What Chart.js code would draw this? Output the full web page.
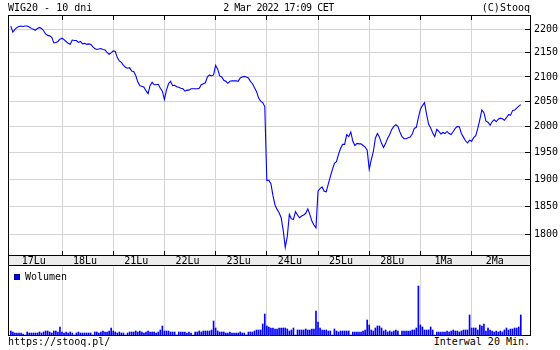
<!DOCTYPE html>
<html><head><meta charset="utf-8">
<script src="https://cdn.jsdelivr.net/npm/chart.js@4.4.1/dist/chart.umd.min.js"></script>
<style>
html,body{margin:0;padding:0;background:#fff}
body{width:560px;height:350px;position:relative;overflow:hidden;font:10px "DejaVu Sans Mono",monospace;color:#000}
canvas{position:absolute;left:0}
.t{position:absolute;white-space:pre;line-height:12px;z-index:2}
</style></head><body>
<canvas id="main" width="560" height="265" style="top:0"></canvas>
<canvas id="vol" width="560" height="71" style="top:265px"></canvas>
<div class="t" style="left:8px;top:2px">WIG20 - 10 dni</div>
<div class="t" style="left:0;width:557px;top:2px;text-align:center;letter-spacing:-0.5px">2 Mar 2022 17:09 CET</div>
<div class="t" style="right:30px;top:2px">(C)Stooq</div>
<div class="t" style="left:14px;top:274px;width:4px;height:4px;background:#00f;border:1px solid #00008b"></div>
<div class="t" style="left:25px;top:271px">Wolumen</div>
<div class="t" style="left:8px;top:336px">https://stooq.pl/</div>
<div class="t" style="right:30px;top:336px">Interwal 20 Min.</div>
<script>
// ---- data ----
const DAYS = ['17Lu','18Lu','21Lu','22Lu','23Lu','24Lu','25Lu','28Lu','1Ma','2Ma'];
const SLOTS = 25; // 20-minute bars per session
const Y_TICKS = [1800,1850,1900,1950,2000,2050,2100,2150,2200];

const PRICE_17LU = [2207,2194,2200,2204,2206,2207,2206,2207,2207,2205,2202,2200,2198,2202,2204,2202,2197,2190,2187,2186,2183,2171,2172,2174,2179];
const PRICE_18LU = [2181,2178,2174,2170,2168,2177,2176,2176,2172,2174,2169,2170,2168,2169,2168,2163,2159,2157,2158,2159,2157,2156,2151,2147,2150];
const PRICE_21LU = [2154,2153,2140,2133,2130,2124,2120,2118,2119,2112,2111,2103,2090,2082,2081,2079,2072,2066,2082,2089,2084,2084,2085,2077,2071];
const PRICE_22LU = [2054,2073,2086,2091,2082,2083,2080,2079,2077,2076,2071,2073,2073,2076,2076,2076,2076,2077,2084,2086,2088,2100,2104,2102,2104];
const PRICE_23LU = [2124,2116,2102,2100,2093,2091,2087,2091,2092,2092,2092,2091,2098,2100,2101,2100,2098,2091,2086,2078,2070,2057,2051,2048,2040];
const PRICE_24LU = [1898,1898,1892,1870,1853,1845,1839,1830,1808,1778,1797,1836,1828,1827,1841,1835,1830,1833,1835,1838,1846,1836,1824,1817,1812];
const PRICE_25LU = [1878,1883,1886,1878,1877,1891,1905,1918,1930,1933,1947,1958,1966,1966,1985,1981,1990,1972,1964,1968,1967,1967,1964,1961,1955];
const PRICE_28LU = [1919,1937,1952,1978,1987,1980,1968,1960,1968,1978,1985,1995,2001,2004,2001,1990,1981,1977,1977,1979,1980,1986,1997,1999,2018];
const PRICE_1MA  = [2035,2042,2048,2025,2005,1998,1988,1981,1995,1991,1986,1989,1987,1991,1987,1985,1991,1997,2001,2000,1987,1980,1973,1969,1974];
const PRICE_2MA  = [1972,1979,1983,1997,2014,2033,2028,2011,2009,2003,2010,2014,2010,2015,2017,2016,2013,2018,2024,2023,2032,2033,2037,2041,2044];

const VOL_17LU = [4,3,2,2,2,2,1,0,3,2,2,2,2,2,3,2,3,4,4,3,2,4,4,3,8];
const VOL_18LU = [3,2,3,2,3,2,0,2,3,2,2,2,2,2,2,0,3,3,2,3,4,3,3,4,7];
const VOL_21LU = [4,3,2,3,2,2,0,2,3,3,3,4,3,4,3,2,3,4,3,3,3,2,3,5,9];
const VOL_22LU = [4,4,4,3,3,3,0,3,3,3,3,2,3,2,0,3,3,4,3,4,4,4,4,5,14];
const VOL_23LU = [7,4,3,3,3,2,2,3,2,2,2,2,3,2,2,0,3,3,3,4,5,5,5,11,21];
const VOL_24LU = [9,8,7,7,6,6,7,7,7,7,6,4,5,7,0,5,5,5,5,6,5,5,6,6,24];
const VOL_25LU = [13,7,5,5,5,4,4,0,6,4,3,4,4,4,4,4,0,3,3,3,3,3,4,5,15];
const VOL_28LU = [10,5,4,7,9,9,7,4,5,3,4,3,4,5,4,0,4,4,4,4,4,5,5,7,49];
const VOL_1MA  = [10,8,5,5,5,8,5,0,3,3,3,3,3,4,3,4,5,4,4,3,4,5,5,5,20];
const VOL_2MA  = [7,7,7,5,10,9,11,4,7,5,4,3,4,3,4,3,5,7,5,6,6,7,7,8,20];

const PRICE_DAYS = [PRICE_17LU,PRICE_18LU,PRICE_21LU,PRICE_22LU,PRICE_23LU,PRICE_24LU,PRICE_25LU,PRICE_28LU,PRICE_1MA,PRICE_2MA];
const VOL_DAYS = [VOL_17LU,VOL_18LU,VOL_21LU,VOL_22LU,VOL_23LU,VOL_24LU,VOL_25LU,VOL_28LU,VOL_1MA,VOL_2MA];

// ---- build ----
const X_MIN = -1.37, X_MAX = 253.5;
const GRID = '#d4d4d4';
const priceData = [], volData = [];
PRICE_DAYS.forEach((arr,d)=>arr.forEach((v,j)=>priceData.push({x:d*SLOTS+j, y:v})));
VOL_DAYS.forEach((arr,d)=>arr.forEach((v,j)=>volData.push({x:d*SLOTS+j, y:v})));
const DAY_BOUNDS = DAYS.slice(1).map((_,i)=>(i+1)*SLOTS);
const LABEL_POS = DAYS.map((_,i)=>i*SLOTS+11.25);

Chart.defaults.font = {family:'"DejaVu Sans Mono", monospace', size:10};
Chart.defaults.color = '#000';

const align = p => Math.round(p - 0.5) + 0.5;

const mainFrame = {
  id:'mainFrame',
  beforeDraw(chart){
    const {ctx, chartArea:a} = chart;
    ctx.save(); ctx.fillStyle = '#ececec';
    ctx.fillRect(a.left, a.bottom, a.right - a.left, chart.height - a.bottom);
    ctx.restore();
  },
  afterDraw(chart){
    const {ctx, chartArea:a, scales:{x, y}} = chart;
    ctx.save(); ctx.strokeStyle = '#000'; ctx.lineWidth = 1; ctx.beginPath();
    ctx.moveTo(a.left, a.top + 0.5); ctx.lineTo(a.right + 1, a.top + 0.5);
    ctx.moveTo(a.left, a.bottom + 0.5); ctx.lineTo(a.right + 1, a.bottom + 0.5);
    ctx.moveTo(a.left + 0.5, a.top); ctx.lineTo(a.left + 0.5, chart.height);
    ctx.moveTo(a.right + 0.5, a.top); ctx.lineTo(a.right + 0.5, chart.height);
    DAY_BOUNDS.forEach(v => {
      const px = align(x.getPixelForValue(v));
      ctx.moveTo(px, a.top); ctx.lineTo(px, a.top + 5);
      ctx.moveTo(px, a.bottom - 4); ctx.lineTo(px, a.bottom);
    });
    Y_TICKS.forEach(v => {
      const py = align(y.getPixelForValue(v));
      ctx.moveTo(a.right - 5, py); ctx.lineTo(a.right, py);
    });
    ctx.stroke(); ctx.restore();
  }
};

const volFrame = {
  id:'volFrame',
  afterDraw(chart){
    const {ctx, chartArea:a} = chart;
    ctx.save(); ctx.strokeStyle = '#000'; ctx.lineWidth = 1; ctx.beginPath();
    ctx.moveTo(a.left, 0.5); ctx.lineTo(a.right + 1, 0.5);
    ctx.moveTo(a.left, a.bottom + 0.5); ctx.lineTo(a.right + 1, a.bottom + 0.5);
    ctx.moveTo(a.left + 0.5, 0); ctx.lineTo(a.left + 0.5, chart.height);
    ctx.moveTo(a.right + 0.5, 0); ctx.lineTo(a.right + 0.5, chart.height);
    ctx.stroke(); ctx.restore();
  }
};

new Chart(document.getElementById('main'), {
  type:'line',
  data:{datasets:[{label:'WIG20', data:priceData, borderColor:'#0000ff', borderWidth:1.1, pointRadius:0, tension:0, fill:false}]},
  options:{
    responsive:false, animation:false, devicePixelRatio:1,
    layout:{padding:{left:8, top:15, right:0, bottom:0}},
    plugins:{legend:{display:false}, tooltip:{enabled:false}},
    scales:{
      x:{type:'linear', min:X_MIN, max:X_MAX, position:'bottom', offset:false,
        afterBuildTicks:s=>{ s.ticks = [...DAY_BOUNDS, ...LABEL_POS].sort((a,b)=>a-b).map(v=>({value:v})); },
        afterFit:s=>{ s.height = 10; },
        grid:{color:c => (c.tick && c.tick.value % SLOTS === 0) ? GRID : 'rgba(0,0,0,0)', drawTicks:false, offset:false},
        border:{display:false},
        ticks:{autoSkip:false, maxRotation:0, padding:0,
          callback:v => { const k = (v - 11.25) / SLOTS; return Number.isInteger(k) ? DAYS[k] : ''; }}
      },
      y:{type:'logarithmic', position:'right', min:1764.6, max:2231,
        afterBuildTicks:s=>{ s.ticks = Y_TICKS.map(v=>({value:v})); },
        afterFit:s=>{ s.width = 30; },
        grid:{color:GRID, drawTicks:false},
        border:{display:false},
        ticks:{padding:4, callback:v => String(v)}
      }
    }
  },
  plugins:[mainFrame]
});

new Chart(document.getElementById('vol'), {
  type:'bar',
  data:{datasets:[{label:'Wolumen', data:volData, backgroundColor:'#0000ff', borderWidth:0, barThickness:1}]},
  options:{
    responsive:false, animation:false, devicePixelRatio:1,
    layout:{padding:{left:8, right:30, top:0, bottom:1}},
    plugins:{legend:{display:false}, tooltip:{enabled:false}},
    scales:{
      x:{type:'linear', min:X_MIN, max:X_MAX, offset:false,
        afterBuildTicks:s=>{ s.ticks = DAY_BOUNDS.map(v=>({value:v})); },
        afterFit:s=>{ s.height = 0; },
        grid:{color:GRID, drawTicks:false, offset:false}, border:{display:false}, ticks:{display:false}},
      y:{display:false, min:0, max:70}
    }
  },
  plugins:[volFrame]
});
</script>
</body></html>
